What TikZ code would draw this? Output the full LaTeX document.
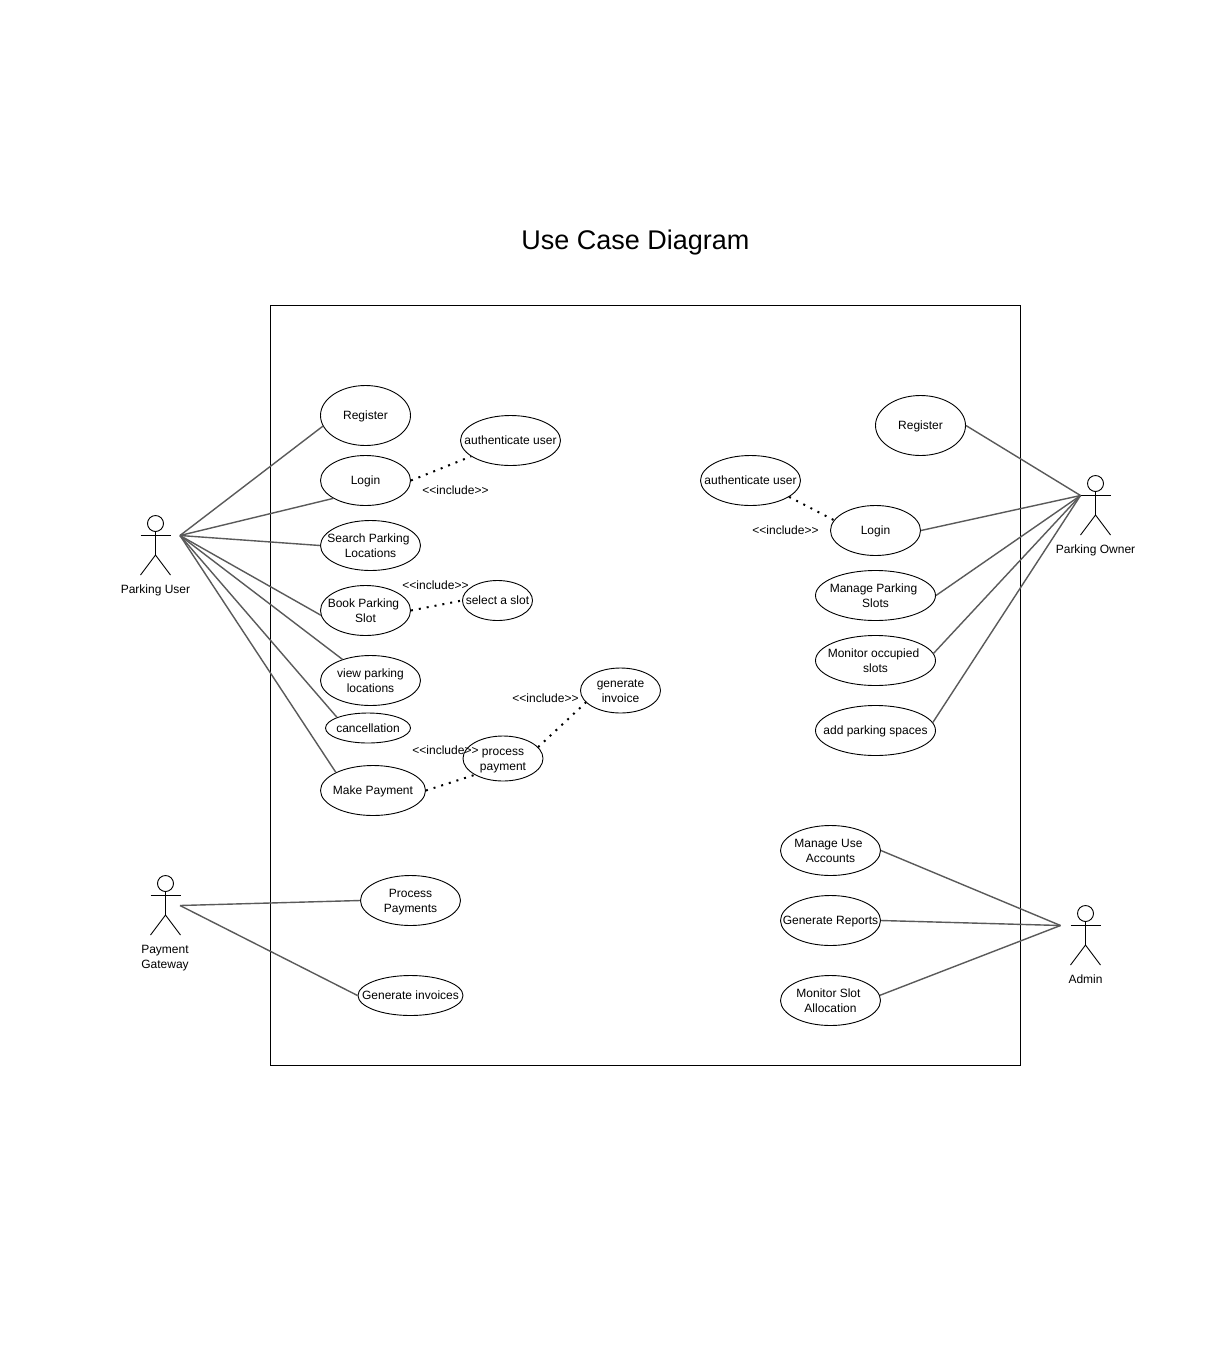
\documentclass[tikz,border=0pt]{standalone}
\usepackage{fontspec}
\setmainfont{Liberation Sans}
\usetikzlibrary{shapes.geometric}
\definecolor{conn}{HTML}{5A5A5A}
\tikzset{
  usecase/.style={ellipse,draw=black,fill=white,line width=0.9pt,inner sep=0pt},
  uctext/.style={inner sep=0pt,align=center,font=\fontsize{12}{15}\selectfont},
  inctext/.style={inner sep=0pt,font=\fontsize{12}{14}\selectfont},
  actortext/.style={inner sep=0pt,align=center,font=\fontsize{12}{15}\selectfont},
  assoc/.style={draw=conn,line width=1.4pt},
  incl/.style={draw=black,line width=2pt,dash pattern=on 2pt off 6pt},
  limb/.style={draw=black,line width=0.9pt},
  frame/.style={draw=black,line width=0.9pt}
}
\newcommand{\ph}{\vphantom{Ag}}
\newcommand{\ucase}[6]{% name, x, y, w, h, text
  \node[usecase,minimum width=#4pt,minimum height=#5pt] (#1) at (#2,#3) {};
  \node[uctext] (#1-t) at ([yshift=-1.3pt]#1.center) {\ph#6\ph};}
\newcommand{\actorfig}[3]{% name, head x, head y
  \node[circle,draw=black,line width=0.9pt,fill=white,minimum size=16pt,inner sep=0pt] (#1) at (#2,#3) {};
  \begin{scope}[shift={(#2,#3)}]
    \coordinate (#1-waist) at (0,31.5);
    \draw[limb] (#1.south) -- (#1-waist);
    \coordinate (#1-la) at (-15,11.5);
    \coordinate (#1-ra) at (15,11.5);
    \draw[limb] (#1-la) -- (#1-ra);
    \coordinate (#1-ll) at (-15,51.5);
    \coordinate (#1-rl) at (15,51.5);
    \draw[limb] (#1-ll) -- (#1-waist) -- (#1-rl);
  \end{scope}}
\newcommand{\incl}{\ph<\kern0pt<include>\kern0pt>}
\begin{document}
\begin{tikzpicture}[x=1pt,y=-1pt]
\fill[white] (0,0) rectangle (1216,1345);
\useasboundingbox (0,0) rectangle (1216,1345);
\node[inner sep=0pt,font=\fontsize{27}{32}\selectfont] (title) at (635.5,242.5) {Use Case Diagram};
\node[frame,rectangle,minimum width=750pt,minimum height=760pt,inner sep=0pt] (system) at (645.5,685.5) {};

% actors
\actorfig{puser}{155.5}{523.5}
\node[actortext] (puser-l) at (155.5,590) {\ph Parking User};
\actorfig{powner}{1095.5}{483.5}
\node[actortext] (powner-l) at (1095.5,550) {\ph Parking Owner};
\actorfig{pgate}{165.5}{883.5}
\node[actortext] (pgate-l) at (165,958) {\ph Payment\\Gateway\ph};
\actorfig{admin}{1085.5}{913.5}
\node[actortext] (admin-l) at (1085.5,980) {\ph Admin};
\coordinate (hubU) at (180,535.5);
\coordinate (hubO) at (1080.5,495.5);
\coordinate (hubG) at (180,905.5);
\coordinate (hubA) at (1060.5,925.5);

\ucase{lreg}{365.5}{415.5}{90}{60}{Register}
\ucase{llogin}{365.5}{480.5}{90}{50}{Login}
\ucase{lauth}{510.5}{440.5}{100}{50}{authenticate user}
\ucase{lsearch}{370.5}{545.5}{100}{50}{Search Parking\hspace*{4pt}\\Locations}
\ucase{lbook}{365.5}{610.5}{90}{50}{Book Parking\hspace*{4pt}\\Slot}
\ucase{lslot}{497.5}{600.5}{70}{40}{select a slot}
\ucase{lview}{370.5}{680.5}{100}{50}{view parking\\locations}
\ucase{lcancel}{368}{728}{85}{30}{cancellation}
\ucase{lpay}{373}{790.5}{105}{50}{Make Payment}
\ucase{lproc}{503}{758.5}{80}{45}{process\\payment}
\ucase{lgen}{620.5}{690.5}{80}{45}{generate\\invoice}
\ucase{gproc}{410.5}{900.5}{100}{50}{Process\\Payments}
\ucase{ggen}{410.5}{995.5}{105}{40}{Generate invoices}
\ucase{rreg}{920.5}{425.5}{90}{60}{Register}
\ucase{rauth}{750.5}{480.5}{100}{50}{authenticate user}
\ucase{rlogin}{875.5}{530.5}{90}{50}{Login}
\ucase{rmanage}{875.5}{595.5}{120}{50}{Manage Parking\hspace*{4pt}\\Slots}
\ucase{rmon}{875.5}{660.5}{120}{50}{Monitor occupied\hspace*{4pt}\\slots}
\ucase{radd}{875.5}{730.5}{120}{50}{add parking spaces}
\ucase{amanage}{830.5}{850.5}{100}{50}{Manage Use\hspace*{4pt}\\Accounts}
\ucase{arep}{830.5}{920.5}{100}{50}{Generate Reports}
\ucase{amon}{830.5}{1000.5}{100}{50}{Monitor Slot\hspace*{4pt}\\Allocation}

% associations
\draw[assoc] (hubU) -- (lreg.194);
\draw[assoc] (hubU) -- (llogin.209);
\draw[assoc] (hubU) -- (lsearch.180);
\draw[assoc] (hubU) -- (lbook.186);
\draw[assoc] (hubU) -- (lview.143);
\draw[assoc] (hubU) -- (lcancel.161);
\draw[assoc] (hubU) -- (lpay.154);
\draw[assoc] (hubO) -- (rreg.0);
\draw[assoc] (hubO) -- (rlogin.0);
\draw[assoc] (hubO) -- (rmanage.0);
\draw[assoc] (hubO) -- (rmon.7);
\draw[assoc] (hubO) -- (radd.8);
\draw[assoc] (hubG) -- (gproc.180);
\draw[assoc] (hubG) -- (ggen.180);
\draw[assoc] (hubA) -- (amanage.0);
\draw[assoc] (hubA) -- (arep.0);
\draw[assoc] (hubA) -- (amon.6);

% includes
\draw[incl] (llogin.0) -- (lauth.202);
\draw[incl] (rauth.-23) -- (rlogin.166);
\draw[incl] (lbook.0) -- (lslot.180);
\draw[incl] (lpay.0) -- (lproc.210);
\draw[incl] (lproc.18) -- (lgen.199);

\node[inctext] (i1) at (455.5,491) {\incl};
\node[inctext] (i2) at (785.5,531) {\incl};
\node[inctext] (i3) at (435.5,586) {\incl};
\node[inctext] (i4) at (545.5,699) {\incl};
\node[inctext] (i5) at (445.5,751) {\incl};
\end{tikzpicture}
\end{document}
